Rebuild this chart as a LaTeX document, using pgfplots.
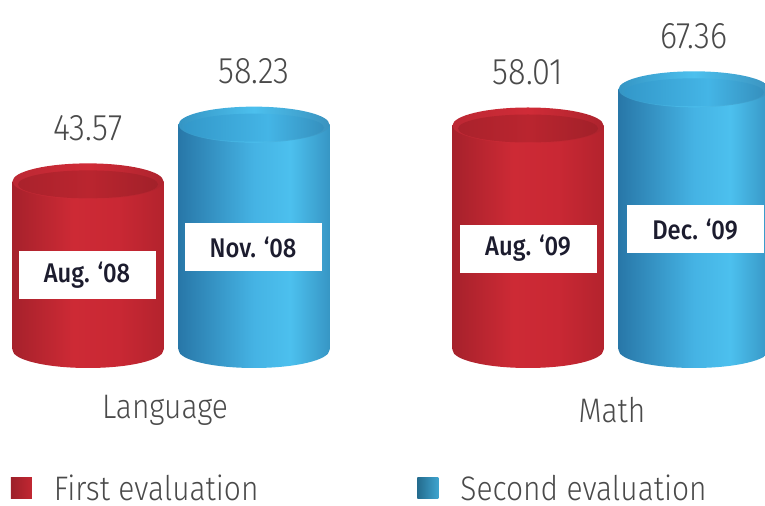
\documentclass[border=0pt]{standalone}
\usepackage{pgfplots}
\pgfplotsset{compat=1.18}
\usepackage{fontspec}
\setmainfont{Fira Sans}[UprightFont=* Light, BoldFont=* Medium, FakeStretch=0.88]
\definecolor{valgray}{HTML}{4A4A4A}
\definecolor{boxtext}{HTML}{1C1C2E}
% red body
\definecolor{rA}{HTML}{7A1820}\definecolor{rB}{HTML}{9C1F29}\definecolor{rC}{HTML}{CD2A35}
\definecolor{rD}{HTML}{C92834}\definecolor{rE}{HTML}{A52029}\definecolor{rF}{HTML}{7B1A20}
% blue body
\definecolor{bA}{HTML}{0F4673}\definecolor{bB}{HTML}{226B9C}\definecolor{bC}{HTML}{45B3E4}
\definecolor{bD}{HTML}{4CC0EE}\definecolor{bE}{HTML}{2F86B5}\definecolor{bF}{HTML}{165C7E}
% tops
\definecolor{rtA}{HTML}{A82530}\definecolor{rtB}{HTML}{D02B37}\definecolor{rtC}{HTML}{8A1C24}
\definecolor{riA}{HTML}{9A1F29}\definecolor{riB}{HTML}{BA252F}\definecolor{riC}{HTML}{8A1C24}
\definecolor{btA}{HTML}{1D6A9A}\definecolor{btB}{HTML}{4CC0EE}\definecolor{btC}{HTML}{2A6690}
\definecolor{biA}{HTML}{2580B2}\definecolor{biB}{HTML}{44B5E6}\definecolor{biC}{HTML}{23628C}
% legend
\definecolor{lrA}{HTML}{8A1C24}\definecolor{lrB}{HTML}{D42B37}
\definecolor{lbA}{HTML}{17506F}\definecolor{lbB}{HTML}{4CC0EE}

\pgfdeclarehorizontalshading{redbody}{100bp}{color(0bp)=(rA); color(20bp)=(rB); color(45bp)=(rC); color(60bp)=(rD); color(85bp)=(rE); color(100bp)=(rF)}
\pgfdeclarehorizontalshading{bluebody}{100bp}{color(0bp)=(bA); color(20bp)=(bB); color(50bp)=(bC); color(62bp)=(bD); color(80bp)=(bE); color(100bp)=(bF)}
\pgfdeclarehorizontalshading{redtop}{100bp}{color(0bp)=(rtA); color(50bp)=(rtB); color(100bp)=(rtC)}
\pgfdeclarehorizontalshading{redin}{100bp}{color(0bp)=(riA); color(50bp)=(riB); color(100bp)=(riC)}
\pgfdeclarehorizontalshading{bluetop}{100bp}{color(0bp)=(btA); color(50bp)=(btB); color(100bp)=(btC)}
\pgfdeclarehorizontalshading{bluein}{100bp}{color(0bp)=(biA); color(55bp)=(biB); color(100bp)=(biC)}
\pgfdeclarehorizontalshading{redleg}{100bp}{color(0bp)=(lrA); color(100bp)=(lrB)}
\pgfdeclarehorizontalshading{blueleg}{100bp}{color(0bp)=(lbA); color(100bp)=(lbB)}

\pgfdeclareplotmark{redbot}{%
  \pgfpathellipse{\pgfpointorigin}{\pgfqpoint{75.5pt}{0pt}}{\pgfqpoint{0pt}{18pt}}%
  \pgfshadepath{redbody}{0}\pgfusepath{discard}}
\pgfdeclareplotmark{bluebot}{%
  \pgfpathellipse{\pgfpointorigin}{\pgfqpoint{75.5pt}{0pt}}{\pgfqpoint{0pt}{18pt}}%
  \pgfshadepath{bluebody}{0}\pgfusepath{discard}}
\pgfdeclareplotmark{redtopm}{%
  \pgfpathellipse{\pgfpointorigin}{\pgfqpoint{75.5pt}{0pt}}{\pgfqpoint{0pt}{18pt}}%
  \pgfshadepath{redtop}{0}\pgfusepath{discard}%
  \pgfpathellipse{\pgfqpoint{0pt}{-3pt}}{\pgfqpoint{70pt}{0pt}}{\pgfqpoint{0pt}{14pt}}%
  \pgfshadepath{redin}{0}\pgfusepath{discard}}
\pgfdeclareplotmark{bluetopm}{%
  \pgfpathellipse{\pgfpointorigin}{\pgfqpoint{75.5pt}{0pt}}{\pgfqpoint{0pt}{18pt}}%
  \pgfshadepath{bluetop}{0}\pgfusepath{discard}%
  \pgfpathellipse{\pgfqpoint{0pt}{-3pt}}{\pgfqpoint{70pt}{0pt}}{\pgfqpoint{0pt}{14pt}}%
  \pgfshadepath{bluein}{0}\pgfusepath{discard}}

\newcommand{\valfont}{\fontsize{37}{44}\selectfont}
\newcommand{\catfont}{\fontsize{34}{40}\selectfont}
\newcommand{\boxfont}{\fontsize{27}{32}\selectfont\bfseries}

\pgfplotsset{
  redbar/.style={ybar, bar width=151, bar shift=0pt, draw=none, shade, shading=redbody,
    legend image code/.code={\pgfpathrectangle{\pgfqpoint{0pt}{-10.5pt}}{\pgfqpoint{21pt}{21pt}}\pgfshadepath{redleg}{0}\pgfusepath{discard}}},
  bluebar/.style={ybar, bar width=151, bar shift=0pt, draw=none, shade, shading=bluebody,
    legend image code/.code={\pgfpathrectangle{\pgfqpoint{0pt}{-10.5pt}}{\pgfqpoint{21pt}{21pt}}\pgfshadepath{blueleg}{0}\pgfusepath{discard}}},
  toplabels/.style={point meta=explicit symbolic, nodes near coords,
    every node near coord/.style={anchor=center, yshift=53pt, font=\valfont, text=valgray}},
}

\begin{document}
\begin{tikzpicture}
\begin{axis}[
  scale only axis, width=765pt, height=506pt,
  xmin=0, xmax=765, ymin=-40.31, ymax=90.44,
  enlargelimits=false, hide axis, clip=false,
  legend columns=2,
  legend style={at={(rel axis cs:0.014,0.0356)}, anchor=west, draw=none, fill=none,
    inner sep=0pt, font=\catfont, text=valgray,
    /tikz/every odd column/.append style={column sep=20pt},
    /tikz/every even column/.append style={column sep=157pt}},
]
\coordinate (bl) at (rel axis cs:0,0);
\coordinate (tr) at (rel axis cs:1,1);
% bottom ellipses
\addplot[only marks, mark=redbot, forget plot] coordinates {(88,0) (528,0)};
\addplot[only marks, mark=bluebot, forget plot] coordinates {(254,0) (694,0)};
% bodies (one plot per bar so each is shaded on its own)
\addplot[redbar] coordinates {(88,43.57)};
\addlegendentry{First evaluation}
\addplot[bluebar] coordinates {(254,58.23)};
\addlegendentry{Second evaluation}
\addplot[redbar, forget plot] coordinates {(528,58.01)};
\addplot[bluebar, forget plot] coordinates {(694,67.36)};
% tops with values
\addplot[only marks, mark=redtopm, forget plot, toplabels]
  coordinates {(88,43.57) [43.57] (528,58.01) [58.01]};
\addplot[only marks, mark=bluetopm, forget plot, toplabels]
  coordinates {(254,58.23) [58.23] (694,67.36) [67.36]};
% boxes
\tikzset{lbox/.style={fill=white, minimum width=137pt, minimum height=48pt, inner sep=0pt, font=\boxfont, text=boxtext}}
\node[lbox] at (axis cs:87,19.3) {Aug. ‘08};
\node[lbox] at (axis cs:253,26.6) {Nov. ‘08};
\node[lbox] at (axis cs:528,26.2) {Aug. ‘09};
\node[lbox] at (axis cs:695,31.2) {Dec. ‘09};
% categories
\node[font=\catfont, text=valgray] at (axis cs:165,-15.5) {Language};
\node[font=\catfont, text=valgray] at (axis cs:612,-15.5) {Math};
\end{axis}
\pgfresetboundingbox
\useasboundingbox (bl) rectangle (tr);
\end{tikzpicture}
\end{document}
